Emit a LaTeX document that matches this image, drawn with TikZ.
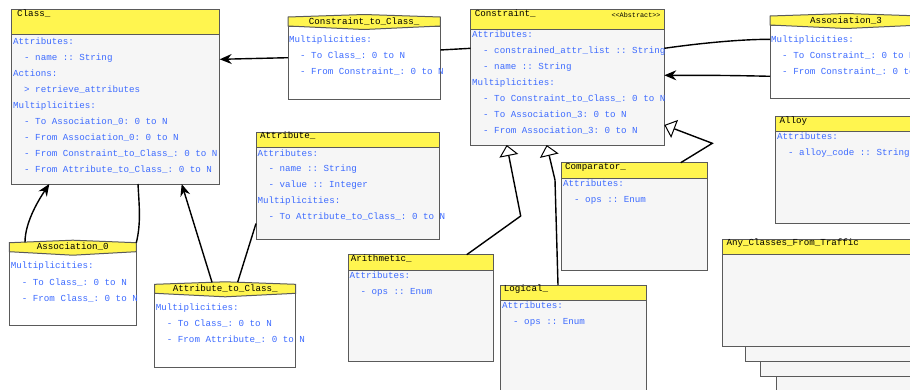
\documentclass[tikz,border=0pt]{standalone}
\usepackage{fontspec}
\setmonofont{Liberation Mono}
\usetikzlibrary{arrows.meta,calc}
\definecolor{hdr}{HTML}{FFF54F}
\definecolor{bodyg}{HTML}{F6F6F6}
\definecolor{txtb}{HTML}{3D6BFF}
\definecolor{bord}{HTML}{5A5A5A}
\tikzset{
  clsbody/.style={draw=bord, line width=1pt, fill=bodyg, anchor=north west, inner sep=0pt, outer sep=0pt},
  clshead/.style={draw=bord, line width=1pt, fill=hdr, anchor=north west, inner sep=0pt, outer sep=0pt},
  asbody/.style={draw=bord, line width=1pt, fill=white, anchor=north west, inner sep=0pt, outer sep=0pt},
  hexstyle/.style={draw=bord, line width=1pt, fill=hdr},
  txt/.style={anchor=west, inner sep=0pt, text height=5.5pt, text depth=0pt, font=\ttfamily\fontsize{9.2}{10}\selectfont, text=txtb},
  ttl/.style={anchor=west, inner sep=0pt, text height=5.5pt, text depth=0pt, font=\ttfamily\fontsize{9.2}{10}\selectfont, text=black},
  cttl/.style={ttl, anchor=center},
  absttl/.style={anchor=east, inner sep=0pt, text height=4pt, text depth=0pt, font=\ttfamily\fontsize{6.8}{7}\selectfont, text=black},
  conn/.style={line width=1.4pt, black},
  assoc/.style={conn, -{Stealth[length=12pt,width=10pt,inset=4pt]}},
  inherit/.style={conn, -{Triangle[open,fill=white,length=11pt,width=19pt,line width=1pt]}}
}
\newcommand\hexhead[1]{%
  \filldraw[hexstyle] (#1.north west) -- ($(#1.north west)+(0,-9)$) -- ($(#1.north)+(0,-11.5)$)
    -- ($(#1.north east)+(0,-9)$) -- (#1.north east) -- ($(#1.north)+(0,3.5)$) -- cycle;}
\begin{document}
\begin{tikzpicture}[x=1pt,y=-1pt]
\useasboundingbox (0,0) rectangle (910,389);
\clip (0,0) rectangle (910,389);
\fill[white] (0,0) rectangle (910,389);

% ---------- Class_
\node[clsbody, minimum width=208pt, minimum height=174.5pt] (cls) at (11.7,9.5) {};
\node[clshead, minimum width=208pt, minimum height=24.8pt] (clsh) at (11.7,9.5) {};
\node[ttl] (clst) at (17,14) {Class\_};
\node[txt] (c1) at (13,41.7) {Attributes:};
\node[txt] (c2) at (24,57.5) {- name :: String};
\node[txt] (c3) at (13,73.5) {Actions:};
\node[txt] (c4) at (24,89.5) {> retrieve\_attributes};
\node[txt] (c5) at (13,105.7) {Multiplicities:};
\node[txt] (c6) at (24,121.8) {- To Association\_0: 0 to N};
\node[txt] (c7) at (24,137.8) {- From Association\_0: 0 to N};
\node[txt] (c8) at (24,154) {- From Constraint\_to\_Class\_: 0 to N};
\node[txt] (c9) at (24,170) {- From Attribute\_to\_Class\_: 0 to N};

% ---------- Constraint_to_Class_
\node[asbody, minimum width=152.3pt, minimum height=73pt] (ctc) at (288,26) {};
\hexhead{ctc}
\node[cttl] (ctct) at ($(ctc.north)+(0,-4.3)$) {Constraint\_to\_Class\_};
\node[txt] (ctc1) at (289,40) {Multiplicities:};
\node[txt] (ctc2) at (300,56) {- To Class\_: 0 to N};
\node[txt] (ctc3) at (300,72) {- From Constraint\_: 0 to N};

% ---------- Constraint_
\node[clsbody, minimum width=193.6pt, minimum height=135.7pt] (con) at (470.7,9.3) {};
\node[clshead, minimum width=193.6pt, minimum height=19.7pt] (conh) at (470.7,9.3) {};
\node[ttl] (cont) at (474.7,13.3) {Constraint\_};
\node[absttl] (conab) at (660.7,15.3) {<<Abstract>>};
\node[txt] (k1) at (472,34.3) {Attributes:};
\node[txt] (k2) at (483,51) {- constrained\_attr\_list :: String};
\node[txt] (k3) at (483,67) {- name :: String};
\node[txt] (k4) at (472,82.5) {Multiplicities:};
\node[txt] (k5) at (483,98.7) {- To Constraint\_to\_Class\_: 0 to N};
\node[txt] (k6) at (483,115) {- To Association\_3: 0 to N};
\node[txt] (k7) at (483,131) {- From Association\_3: 0 to N};

% ---------- Association_3
\node[asbody, minimum width=152pt, minimum height=73.3pt] (as3) at (770,25) {};
\hexhead{as3}
\node[cttl] (as3t) at ($(as3.north)+(0,-4.3)$) {Association\_3};
\node[txt] (m1) at (771,39.3) {Multiplicities:};
\node[txt] (m2) at (782,55.3) {- To Constraint\_: 0 to N};
\node[txt] (m3) at (782,71.3) {- From Constraint\_: 0 to N};

% ---------- Alloy
\node[clsbody, minimum width=150pt, minimum height=106.6pt] (alloy) at (775.7,116.7) {};
\node[clshead, minimum width=150pt, minimum height=15pt] (alloyh) at (775.7,116.7) {};
\node[ttl] (alloyt) at (779.3,120.3) {Alloy};
\node[txt] (al1) at (777,136.7) {Attributes:};
\node[txt] (al2) at (788,153) {- alloy\_code :: String};

% ---------- Attribute_
\node[clsbody, minimum width=183pt, minimum height=106.7pt] (attr) at (256,132.3) {};
\node[clshead, minimum width=183pt, minimum height=15pt] (attrh) at (256,132.3) {};
\node[ttl] (attrt) at (260,135.9) {Attribute\_};
\node[txt] (at1) at (257.3,153.3) {Attributes:};
\node[txt] (at2) at (268.3,169) {- name :: String};
\node[txt] (at3) at (268.3,184.7) {- value :: Integer};
\node[txt] (at4) at (257.3,200.7) {Multiplicities:};
\node[txt] (at5) at (268.3,216.7) {- To Attribute\_to\_Class\_: 0 to N};

% ---------- Association_0
\node[asbody, minimum width=127pt, minimum height=73.3pt] (as0) at (9.3,251.7) {};
\hexhead{as0}
\node[cttl] (as0t) at ($(as0.north)+(0,-4.8)$) {Association\_0};
\node[txt] (a01) at (10.7,266) {Multiplicities:};
\node[txt] (a02) at (21.7,282.3) {- To Class\_: 0 to N};
\node[txt] (a03) at (21.7,298.3) {- From Class\_: 0 to N};

% ---------- Attribute_to_Class_
\node[asbody, minimum width=141pt, minimum height=74pt] (atc) at (154.7,293.3) {};
\hexhead{atc}
\node[cttl] (atct) at ($(atc.north)+(0,-4.8)$) {Attribute\_to\_Class\_};
\node[txt] (ac1) at (155.7,308) {Multiplicities:};
\node[txt] (ac2) at (166.7,324) {- To Class\_: 0 to N};
\node[txt] (ac3) at (166.7,340) {- From Attribute\_: 0 to N};

% ---------- Comparator_
\node[clsbody, minimum width=145.6pt, minimum height=107.3pt] (cmp) at (561.7,162.7) {};
\node[clshead, minimum width=145.6pt, minimum height=15.6pt] (cmph) at (561.7,162.7) {};
\node[ttl] (cmpt) at (565,166.5) {Comparator\_};
\node[txt] (cp1) at (563,183.3) {Attributes:};
\node[txt] (cp2) at (574,199.3) {- ops :: Enum};

% ---------- Arithmetic_
\node[clsbody, minimum width=145.3pt, minimum height=107pt] (ari) at (348,254.7) {};
\node[clshead, minimum width=145.3pt, minimum height=15.3pt] (arih) at (348,254.7) {};
\node[ttl] (arit) at (350.7,258.3) {Arithmetic\_};
\node[txt] (ar1) at (349.3,275.3) {Attributes:};
\node[txt] (ar2) at (360.3,291.3) {- ops :: Enum};

% ---------- Logical_
\node[clsbody, minimum width=145.3pt, minimum height=120pt] (log) at (500.7,285) {};
\node[clshead, minimum width=145.3pt, minimum height=15.7pt] (logh) at (500.7,285) {};
\node[ttl] (logt) at (503.7,288.7) {Logical\_};
\node[txt] (lg1) at (502,305.7) {Attributes:};
\node[txt] (lg2) at (513,322) {- ops :: Enum};

% ---------- Any_Classes_From_Traffic (with stacked boxes)
\node[clsbody, minimum width=200pt, minimum height=80pt] (sk3) at (776,320) {};
\node[clsbody, minimum width=200pt, minimum height=66.7pt] (sk2) at (760.7,310) {};
\node[clsbody, minimum width=200pt, minimum height=61.7pt] (sk1) at (745,300) {};
\node[clsbody, minimum width=200pt, minimum height=107.3pt] (any) at (722,239) {};
\node[clshead, minimum width=200pt, minimum height=15.3pt] (anyh) at (722,239) {};
\node[ttl] (anyt) at (726.3,243) {Any\_Classes\_From\_Traffic};

% ---------- connectors
\draw[assoc] ($(ctc.north west)+(0,31.7)$) -- ($(cls.north east)+(0,49.8)$);
\draw[conn] ($(ctc.north east)+(0,24)$) -- ($(con.north west)+(0,39)$);
\draw[conn] ($(con.north east)+(0,39)$) .. controls +(35,-5) and +(-30,0) .. ($(as3.north west)+(0,14.3)$);
\draw[assoc] ($(as3.north west)+(0,51.3)$) .. controls +(-40,-1) and +(40,0) .. ($(con.north east)+(0,66)$);
\draw[assoc] ($(as0.north west)+(15.7,-9.4)$) .. controls +(0,-22) and +(-8,12) .. ($(cls.south west)+(37.6,0)$);
\draw[conn] ($(as0.north east)+(0,-9)$) .. controls +(5,-20) and +(1,20) .. ($(cls.south west)+(126.3,0)$);
\draw[assoc] ($(atc.north west)+(57.3,-11.1)$) -- ($(cls.south west)+(170,0)$);
\draw[conn] ($(atc.north west)+(83,-11.2)$) -- ($(attr.north west)+(0,91.2)$);
\draw[inherit] ($(ari.north west)+(118.7,0)$) -- ++(54,-38.7) -- ($(con.south west)+(36,0)$);
\draw[inherit] ($(log.north west)+(57.3,0)$) -- ++(-3,-105) -- ($(con.south west)+(76,0)$);
\draw[inherit] ($(cmp.north west)+(119,0)$) -- ++(31.6,-19.4) -- ($(con.north east)+(0,115.7)$);
\end{tikzpicture}
\end{document}
